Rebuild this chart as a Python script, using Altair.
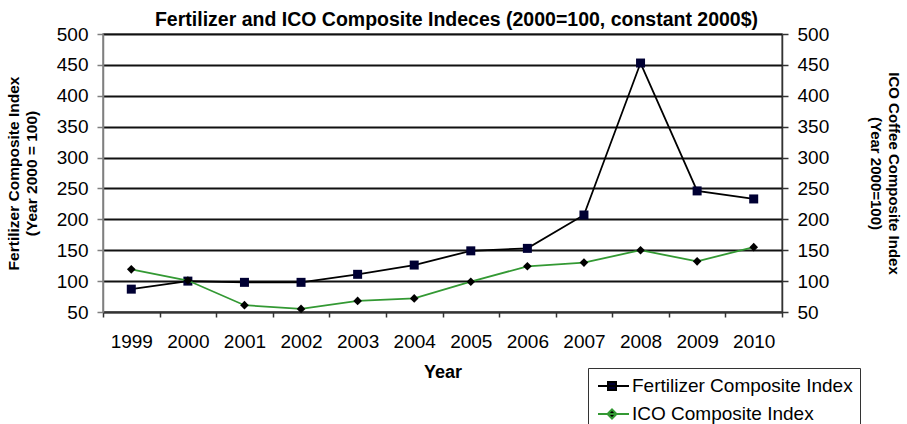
import altair as alt
import pandas as pd

# ---- data ----
years = ["1999", "2000", "2001", "2002", "2003", "2004",
         "2005", "2006", "2007", "2008", "2009", "2010"]
fertilizer_index = [87, 100, 98, 98, 111, 126, 149, 153, 207, 453, 246, 233]
ico_index = [119, 101, 61, 55, 68, 72, 99, 124, 130, 150, 132, 155]
series_names = ["Fertilizer Composite Index", "ICO Composite Index"]
y_ticks = [50, 100, 150, 200, 250, 300, 350, 400, 450, 500]

title_text = "Fertilizer and ICO Composite Indeces (2000=100, constant 2000$)"
left_title = ["Fertilizer Composite Index", "(Year 2000 = 100)"]
right_title = ["ICO Coffee Composite Index", "(Year 2000=100)"]

df = pd.DataFrame({"year": years, "fert": fertilizer_index, "ico": ico_index})
legend_df = pd.DataFrame({"series": series_names})

FONT = "Liberation Sans"
GREEN = "#339933"

y_scale = alt.Scale(domain=[50, 500], nice=False, zero=False)

x_enc = alt.X(
    "year:O", title="Year", sort=years,
    scale=alt.Scale(type="band", paddingInner=0, paddingOuter=0),
    axis=alt.Axis(labelAngle=0, tickBand="extent", grid=False,
                  labelFont=FONT, labelFontSize=19, labelColor="black",
                  labelPadding=15, tickSize=5, tickColor="#333", tickWidth=1.5,
                  domainColor="#333", domainWidth=1.5,
                  titleFont=FONT, titleFontSize=18, titleFontWeight="bold",
                  titleColor="black", titlePadding=12))

y_left = alt.Y(
    "fert:Q", scale=y_scale, title=left_title,
    axis=alt.Axis(orient="left", values=y_ticks, grid=True,
                  gridColor="#111", gridWidth=1.8,
                  tickSize=6, tickColor="#7f7f7f", tickWidth=1.5,
                  domainColor="#7f7f7f", domainWidth=1.5,
                  labelFont=FONT, labelFontSize=19, labelColor="black",
                  labelPadding=9,
                  titleFont=FONT, titleFontSize=15.5, titleFontWeight="bold",
                  titleColor="black", titlePadding=17, titleLineHeight=18))

y_right = alt.Y(
    "ico:Q", scale=y_scale, title=right_title,
    axis=alt.Axis(orient="right", values=y_ticks, grid=False,
                  tickSize=6, tickColor="#333", tickWidth=1.5,
                  domainColor="#333", domainWidth=1.5,
                  labelFont=FONT, labelFontSize=19, labelColor="black",
                  labelPadding=9,
                  titleFont=FONT, titleFontSize=15, titleFontWeight="bold",
                  titleColor="black", titlePadding=39, titleLineHeight=18))

fert = alt.Chart(df).mark_line(
    color="black", strokeWidth=1.8,
    point=alt.OverlayMarkDef(shape="square", filled=True, size=81,
                             color="#000033", opacity=1)
).encode(x=x_enc, y=y_left)

ico = alt.Chart(df).mark_line(
    color=GREEN, strokeWidth=1.8,
    point=alt.OverlayMarkDef(shape="diamond", filled=True, size=75,
                             color="black", opacity=1)
).encode(x=x_enc, y=y_right)

legend_paths = [
    "M-0.8,0H2.3M0.2,-0.4H1V0.4H0.2Z",
    "M-0.8,0H2.3M0.6,-0.45L1.05,0L0.6,0.45L0.15,0Z",
]
leg = alt.Legend(orient="none", legendX=485, legendY=334, title=None,
                 labelFont=FONT, labelFontSize=19, labelColor="black",
                 labelLimit=400,
                 symbolSize=400, symbolStrokeWidth=2, rowPadding=7,
                 padding=7, labelOffset=15, strokeColor="#333",
                 fillColor="white")

legend_layer = alt.Chart(legend_df).transform_filter("false").mark_point(
    filled=True, strokeWidth=2, opacity=1
).encode(
    shape=alt.Shape("series:N", scale=alt.Scale(domain=series_names, range=legend_paths), legend=leg),
    fill=alt.Fill("series:N", scale=alt.Scale(domain=series_names, range=["#000033", "black"]), legend=leg),
    stroke=alt.Stroke("series:N", scale=alt.Scale(domain=series_names, range=["black", GREEN]), legend=leg),
)

chart = alt.layer(fert, ico, legend_layer).resolve_scale(
    y="independent"
).properties(
    width=679, height=278,
    autosize=alt.AutoSizeParams(type="none"),
    padding={"left": 103, "top": 34, "right": 125, "bottom": 112},
    title=alt.Title(text=title_text, font=FONT, fontSize=19.5,
                    fontWeight="bold", color="black", anchor="middle",
                    offset=-5, dx=14),
    background="white",
).configure_view(fill="#c0c0c0", stroke="#7f7f7f", strokeWidth=1.5)

chart.save("out.html", embed_options={"renderer": "svg", "actions": False})
